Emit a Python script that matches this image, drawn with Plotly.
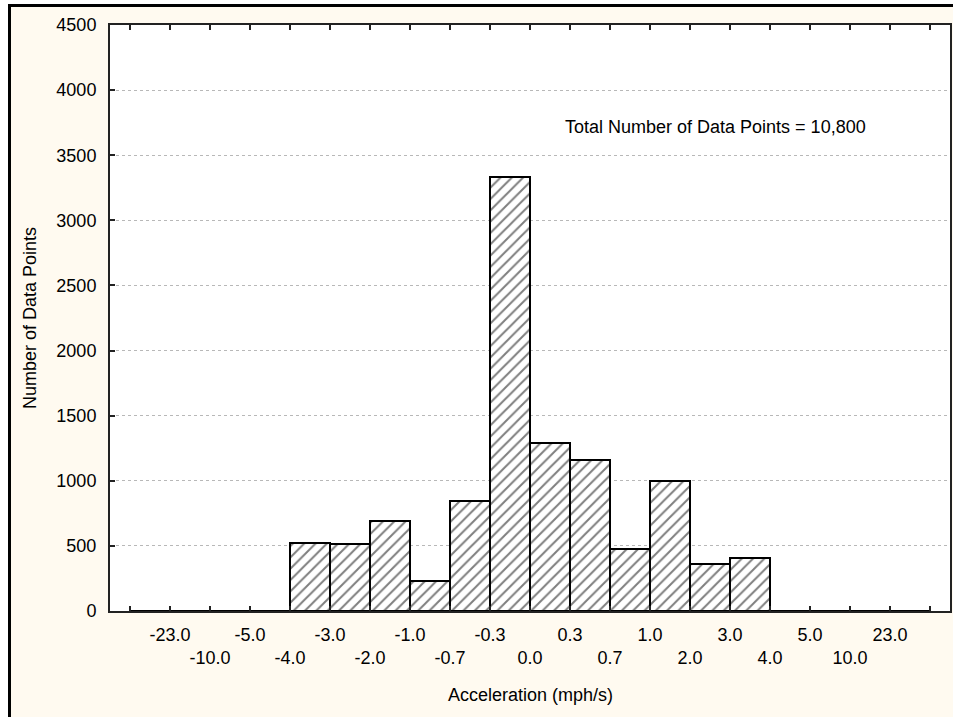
import plotly.graph_objects as go

# Bin edge labels (acceleration, mph/s)
edge_labels = ["-23.0", "-10.0", "-5.0", "-4.0", "-3.0", "-2.0", "-1.0", "-0.7", "-0.3",
               "0.0", "0.3", "0.7", "1.0", "2.0", "3.0", "4.0", "5.0", "10.0", "23.0"]
# Counts per bin (20 bins: <-23, -23..-10, ..., 10..23, >23)
counts = [0, 0, 0, 0, 525, 513, 695, 233, 846, 3336, 1287, 1162, 475, 998, 359, 405, 0, 0, 0, 0]
annotation_text = "Total Number of Data Points = 10,800"

bins = list(range(len(counts)))

W, H = 953, 717
L, R, T, B = 110, 3, 25, 106
PW, PH = W - L - R, H - T - B

def px_x(p):
    return (p - L) / PW

def px_y(p):
    return (H - B - p) / PH

FONT = "Liberation Sans, Arial, sans-serif"
FS = 18

fig = go.Figure()
fig.add_trace(go.Bar(
    x=bins, y=counts, width=1.0,
    marker=dict(color="white",
                line=dict(color="black", width=2),
                pattern=dict(shape="/", fgcolor="black", bgcolor="white", size=8, solidity=0.25)),
    showlegend=False, hoverinfo="x+y",
))

tickvals = [-0.5] + [i + 0.5 for i in range(len(edge_labels))] + [len(counts) - 0.5]
ticktext = [""] + [(t if i % 2 == 0 else "<br>" + t) for i, t in enumerate(edge_labels)] + [""]

fig.update_xaxes(
    range=[-1, len(counts)], tickmode="array", tickvals=tickvals, ticktext=ticktext,
    tickangle=0,
    ticks="inside", ticklen=5, tickwidth=2, tickcolor="#222",
    showline=True, linecolor="#222", linewidth=2, mirror="ticks",
    showgrid=False, zeroline=False,
    tickfont=dict(family=FONT, size=FS, color="black"),
    ticklabelstandoff=6,
)
fig.update_yaxes(
    range=[0, 4500], tickmode="array", tickvals=list(range(0, 4501, 500)),
    ticks="inside", ticklen=5, tickwidth=2, tickcolor="#222",
    showline=True, linecolor="#222", linewidth=2, mirror=True,
    showgrid=True, gridcolor="#b8b8b8", griddash="dot", gridwidth=1, zeroline=False,
    tickfont=dict(family=FONT, size=FS, color="black"),
    ticklabelstandoff=8,
)

shapes = [
    dict(type="rect", xref="paper", yref="paper", x0=px_x(0), x1=px_x(W), y0=px_y(4), y1=px_y(0),
         fillcolor="white", line_width=0, layer="above"),
    dict(type="rect", xref="paper", yref="paper", x0=px_x(0), x1=px_x(8), y0=px_y(H), y1=px_y(0),
         fillcolor="white", line_width=0, layer="above"),
    dict(type="rect", xref="paper", yref="paper", x0=px_x(8), x1=px_x(W), y0=px_y(7), y1=px_y(4),
         fillcolor="black", line_width=0, layer="above"),
    dict(type="rect", xref="paper", yref="paper", x0=px_x(8), x1=px_x(11), y0=px_y(H), y1=px_y(4),
         fillcolor="black", line_width=0, layer="above"),
]

annotations = [
    dict(text=annotation_text, xref="paper", yref="paper", x=px_x(715), y=px_y(127),
         showarrow=False, xanchor="center", yanchor="middle",
         font=dict(family=FONT, size=FS, color="black")),
    dict(text="Number of Data Points", xref="paper", yref="paper", x=px_x(30), y=0.5,
         showarrow=False, textangle=-90, xanchor="center", yanchor="middle",
         font=dict(family=FONT, size=FS, color="black")),
    dict(text="Acceleration (mph/s)", xref="paper", yref="paper", x=0.5, y=px_y(695),
         showarrow=False, xanchor="center", yanchor="middle",
         font=dict(family=FONT, size=FS, color="black")),
]

fig.update_layout(
    width=W, height=H,
    margin=dict(l=L, r=R, t=T, b=B, autoexpand=False),
    paper_bgcolor="#fffaf0", plot_bgcolor="white",
    bargap=0, shapes=shapes, annotations=annotations,
    font=dict(family=FONT, size=FS, color="black"),
)

fig.write_html("out.html", config={"displayModeBar": False},
               post_script="document.body.style.margin='0';document.body.style.overflow='hidden';")
